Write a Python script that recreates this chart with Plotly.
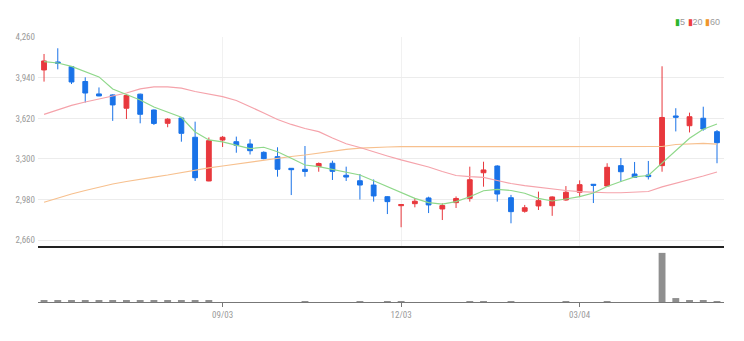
import plotly.graph_objects as go

# weekly candles (index 0..49)
opens = [4002, 4065, 4028, 3911, 3813, 3805, 3700, 3811, 3686, 3581,
         3623, 3471, 3126, 3449, 3436, 3418, 3352, 3318, 3226, 3218,
         3239, 3266, 3171, 3128, 3094, 3002, 2931, 2947, 2992, 2905,
         2955, 2989, 3191, 3244, 2994, 2887, 2929, 2931, 2976, 3037,
         3100, 3086, 3247, 3181, 3173, 3247, 3639, 3562, 3621, 3515]
highs = [4128, 4173, 4032, 3944, 3864, 3810, 3812, 3815, 3690, 3621,
         3629, 3594, 3469, 3481, 3476, 3455, 3360, 3392, 3228, 3402,
         3272, 3286, 3239, 3181, 3138, 3006, 2942, 2992, 3002, 2950,
         3004, 3239, 3278, 3250, 3016, 2937, 3042, 3005, 3086, 3131,
         3102, 3266, 3307, 3276, 3284, 4031, 3700, 3665, 3712, 3528]
lows = [3910, 4007, 3891, 3745, 3795, 3600, 3615, 3581, 3568, 3550,
        3436, 3126, 3124, 3394, 3349, 3335, 3297, 3160, 3015, 3160,
        3199, 3134, 3126, 2980, 2963, 2865, 2761, 2918, 2873, 2818,
        2913, 2963, 3081, 2963, 2792, 2876, 2897, 2851, 2970, 2999,
        2952, 3080, 3118, 3152, 3138, 3199, 3517, 3509, 3523, 3266]
closes = [4073, 4055, 3907, 3820, 3797, 3726, 3801, 3652, 3580, 3614,
          3502, 3152, 3444, 3471, 3408, 3365, 3302, 3218, 3215, 3201,
          3264, 3202, 3157, 3094, 3008, 2963, 2940, 2966, 2937, 2932,
          2988, 3136, 3213, 3023, 2884, 2915, 2971, 3000, 3037, 3097,
          3092, 3234, 3199, 3155, 3160, 3627, 3629, 3633, 3536, 3428]
volumes = [4, 4, 3, 4, 3, 3, 3, 3, 3, 3, 3, 3, 3, 0, 0, 0, 0, 0, 0, 2,
           0, 0, 0, 2, 0, 2, 2, 0, 0, 0, 0, 2, 2, 0, 2, 0, 0, 0, 2, 0,
           0, 2, 0, 0, 0, 100, 8, 3, 3, 2]
ma5 = [4067, 4057, 4030, 3990, 3947, 3852, 3809, 3765, 3710, 3670,
       3629, 3513, 3450, 3434, 3406, 3382, 3392, 3357, 3305, 3252,
       3239, 3218, 3199, 3173, 3128, 3081, 3034, 2989, 2955, 2944,
       2963, 3002, 3049, 3060, 3051, 3029, 2989, 2968, 2984, 3002,
       3031, 3083, 3122, 3158, 3169, 3268, 3371, 3463, 3534, 3576]
ma20 = [3651, 3686, 3722, 3749, 3773, 3793, 3820, 3852, 3868, 3868,
        3858, 3832, 3809, 3791, 3761, 3714, 3663, 3611, 3572, 3540,
        3515, 3465, 3420, 3390, 3355, 3323, 3292, 3264, 3236, 3201,
        3169, 3160, 3155, 3130, 3106, 3090, 3075, 3063, 3051, 3042,
        3035, 3033, 3033, 3035, 3043, 3079, 3106, 3134, 3165, 3197]
ma60 = [2958, 2992, 3023, 3051, 3079, 3102, 3122, 3142, 3157, 3173,
        3193, 3213, 3229, 3244, 3260, 3276, 3288, 3304, 3319, 3331,
        3347, 3363, 3375, 3386, 3392, 3394, 3397, 3397, 3397, 3397,
        3398, 3399, 3400, 3400, 3400, 3400, 3400, 3400, 3400, 3400,
        3400, 3400, 3400, 3400, 3400, 3398, 3414, 3418, 3422, 3416]
tick_idx = [13, 26, 39]
tick_text = ["09/03", "12/03", "03/04"]
price_ticks = [2660, 2980, 3300, 3620, 3940, 4260]

x = list(range(len(closes)))
RED = "#e8383d"
BLUE = "#1a73e8"

fig = go.Figure()
fig.add_trace(go.Scatter(x=x, y=ma60, mode="lines", line=dict(color="#f7c08e", width=1.2),
                         hoverinfo="skip", xaxis="x", yaxis="y"))
fig.add_trace(go.Scatter(x=x, y=ma20, mode="lines", line=dict(color="#f5a3ab", width=1.2),
                         hoverinfo="skip", xaxis="x", yaxis="y"))
fig.add_trace(go.Scatter(x=x, y=ma5, mode="lines", line=dict(color="#8fd88a", width=1.2),
                         hoverinfo="skip", xaxis="x", yaxis="y"))
fig.add_trace(go.Candlestick(x=x, open=opens, high=highs, low=lows, close=closes,
                             increasing=dict(line=dict(color=RED, width=1), fillcolor=RED),
                             decreasing=dict(line=dict(color=BLUE, width=1), fillcolor=BLUE),
                             whiskerwidth=0, xaxis="x", yaxis="y"))
fig.add_trace(go.Bar(x=x, y=volumes, width=0.5, marker=dict(color="#8f8f8f", line=dict(width=0)),
                     xaxis="x2", yaxis="y2"))

tickfont = dict(family="Liberation Sans Narrow, Arial Narrow, Roboto Condensed, sans-serif",
                size=9, color="#9a9a9a")
xr = [-0.44, 49.51]
split = (302 - 246) / 265

fig.update_layout(
    width=744, height=341,
    margin=dict(l=38, r=20, t=37, b=39),
    paper_bgcolor="white", plot_bgcolor="white",
    showlegend=False,
    boxgap=0.5,
    xaxis=dict(domain=[0, 1], range=xr, anchor="y", tickvals=tick_idx, ticktext=["", "", ""],
               showgrid=True, gridcolor="#f1f1f1", gridwidth=1, zeroline=False,
               showline=True, linecolor="#222222", linewidth=2, ticks="",
               rangeslider=dict(visible=False)),
    yaxis=dict(domain=[split, 1], range=[2613, 4262], tickvals=price_ticks,
               ticktext=[f"{v:,}" for v in price_ticks], tickfont=tickfont,
               showgrid=True, gridcolor="#ececec", zeroline=False, showline=False,
               ticks="", ticklabelstandoff=2),
    xaxis2=dict(domain=[0, 1], range=xr, anchor="y2", tickvals=tick_idx, ticktext=tick_text,
                tickfont=tickfont, showgrid=False, zeroline=False, showline=True,
                linecolor="#777777", linewidth=1, ticks="outside", ticklen=4,
                tickcolor="#777777"),
    yaxis2=dict(domain=[0, split], range=[0, 114], showticklabels=False, showgrid=False,
                zeroline=False, showline=False, ticks=""),
    annotations=[dict(
        xref="paper", yref="paper", x=(722 - 38) / 686, y=(302 - 22) / 265,
        xanchor="right", yanchor="middle", showarrow=False,
        font=dict(family="Liberation Sans Narrow, Arial Narrow, sans-serif", size=9, color="#9a9a9a"),
        text=("<span style='color:#2db52d'>▮</span>5 "
              "<span style='color:#ef4040'>▮</span>20 "
              "<span style='color:#f0962a'>▮</span>60"))],
)

fig.write_html("out.html")
